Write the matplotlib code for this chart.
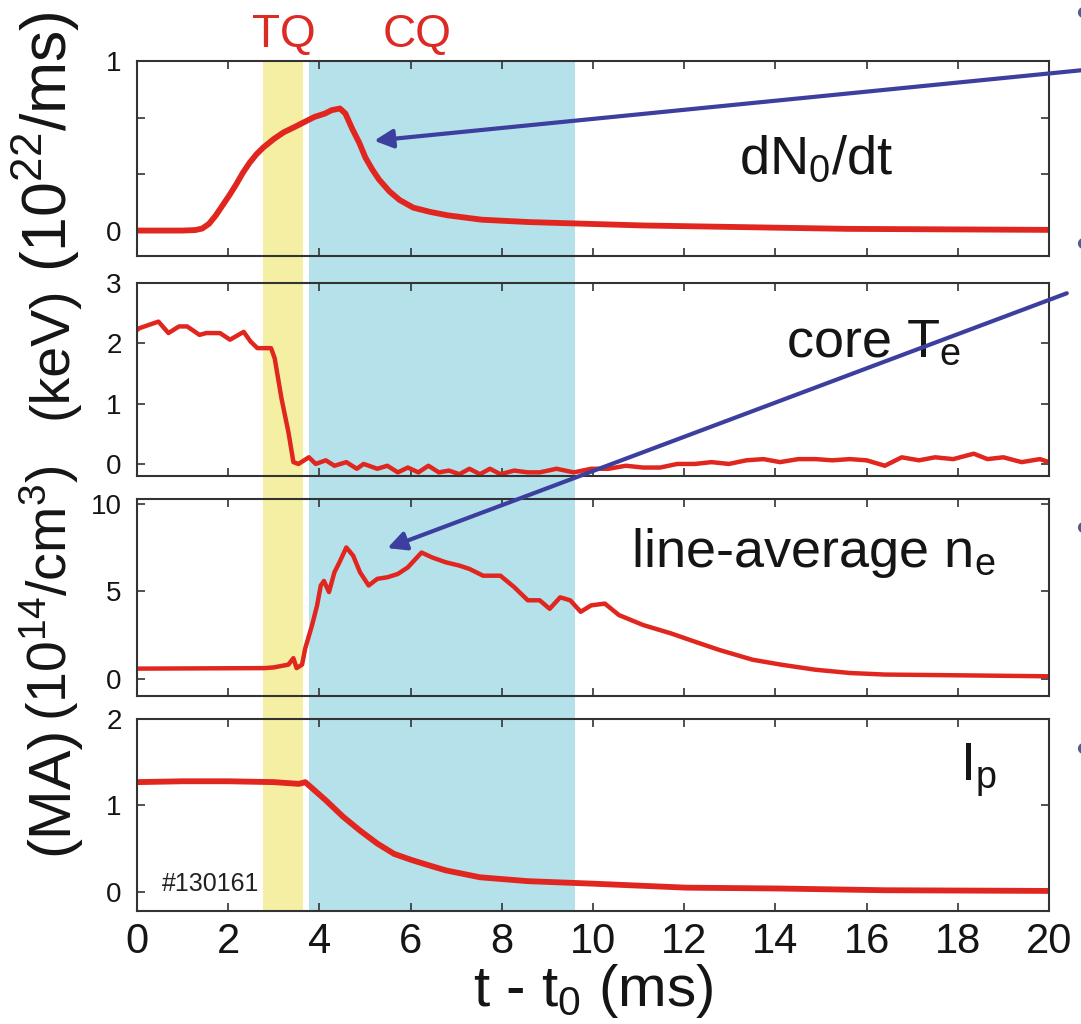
import matplotlib
matplotlib.use('Agg')
import matplotlib.pyplot as plt
import matplotlib.transforms as mtransforms
from matplotlib.lines import Line2D

# ---------------- data ----------------
tq_band = (2.76, 3.65)
cq_band = (3.78, 9.60)

t_dn = [0, 1.0, 1.28, 1.43, 1.58, 1.73, 1.88, 2.03, 2.17, 2.32, 2.47, 2.62, 2.77, 3.0,
        3.22, 3.45, 3.67, 3.89, 4.12, 4.27, 4.45, 4.57, 4.72, 4.87, 5.01, 5.16, 5.31,
        5.54, 5.76, 6.06, 6.43, 6.81, 7.56, 8.6, 11.1, 15.6, 20]
v_dn = [0, 0, 0.003, 0.012, 0.04, 0.09, 0.15, 0.21, 0.27, 0.34, 0.40, 0.45, 0.49, 0.54,
        0.58, 0.61, 0.64, 0.67, 0.69, 0.71, 0.72, 0.69, 0.60, 0.52, 0.43, 0.36, 0.30,
        0.23, 0.18, 0.135, 0.11, 0.09, 0.064, 0.05, 0.03, 0.01, 0.004]

t_te = [0.0, 0.05, 0.47, 0.69, 0.92, 1.1, 1.37, 1.52, 1.82, 2.04, 2.34, 2.49, 2.64,
        2.94, 3.02, 3.17, 3.32, 3.43, 3.54, 3.77, 3.92, 4.14, 4.33, 4.59, 4.82, 4.97,
        5.27, 5.49, 5.72, 5.94, 6.17, 6.39, 6.62, 6.84, 7.07, 7.29, 7.52, 7.74, 7.97,
        8.27, 8.57, 8.83, 9.2, 9.58, 9.96, 10.34, 10.72, 11.1, 11.47, 11.85, 12.23,
        12.6, 12.98, 13.36, 13.74, 14.1, 14.5, 14.88, 15.25, 15.63, 16.0, 16.4, 16.77,
        17.15, 17.5, 17.9, 18.35, 18.65, 19.0, 19.4, 19.8, 20.0]
v_te = [2.22, 2.25, 2.36, 2.17, 2.28, 2.28, 2.14, 2.17, 2.17, 2.06, 2.19, 2.03, 1.92,
        1.92, 1.75, 1.08, 0.53, 0.03, 0.0, 0.11, 0.0, 0.06, -0.03, 0.03, -0.08, 0.0,
        -0.08, -0.03, -0.14, -0.06, -0.14, -0.03, -0.14, -0.11, -0.17, -0.08, -0.17,
        -0.08, -0.17, -0.11, -0.14, -0.14, -0.08, -0.14, -0.08, -0.08, -0.03, -0.06,
        -0.06, 0.0, 0.0, 0.03, 0.0, 0.06, 0.08, 0.03, 0.08, 0.08, 0.06, 0.08, 0.06,
        -0.03, 0.11, 0.06, 0.11, 0.08, 0.17, 0.08, 0.11, 0.03, 0.08, 0.03]

t_ne = [0, 2.8, 3.0, 3.32, 3.43, 3.5, 3.62, 3.69, 3.84, 3.95, 4.03, 4.1, 4.21, 4.33,
        4.44, 4.59, 4.74, 4.89, 5.08, 5.27, 5.49, 5.72, 5.94, 6.24, 6.47, 6.77, 7.07,
        7.29, 7.59, 7.97, 8.27, 8.57, 8.83, 9.05, 9.28, 9.5, 9.73, 9.96, 10.26, 10.57,
        11.1, 11.7, 12.23, 12.76, 13.5, 14.12, 14.87, 15.63, 16.4, 17.9, 20]
v_ne = [0.57, 0.6, 0.64, 0.8, 1.17, 0.6, 0.8, 1.74, 3.07, 4.2, 5.34, 5.6, 4.96, 6.1,
        6.67, 7.52, 7.05, 6.1, 5.34, 5.72, 5.81, 6.0, 6.38, 7.23, 6.95, 6.67, 6.48,
        6.29, 5.9, 5.9, 5.25, 4.49, 4.49, 4.0, 4.66, 4.49, 3.83, 4.2, 4.3, 3.64,
        3.07, 2.6, 2.12, 1.65, 1.08, 0.8, 0.51, 0.32, 0.23, 0.19, 0.13]

t_ip = [0, 1.0, 2.0, 3.0, 3.55, 3.69, 4.14, 4.52, 4.89, 5.27, 5.64, 6.02, 6.39, 6.77,
        7.52, 8.57, 10.0, 12.04, 14.1, 16.4, 20]
v_ip = [1.27, 1.28, 1.28, 1.27, 1.25, 1.27, 1.06, 0.87, 0.71, 0.56, 0.44, 0.37, 0.31,
        0.25, 0.17, 0.125, 0.096, 0.05, 0.04, 0.02, 0.012]

x_ticks = [0, 2, 4, 6, 8, 10, 12, 14, 16, 18, 20]
y_labels = ['(10$^{22}$/ms)', '(keV)', '(10$^{14}$/cm$^3$)', '(MA)']
panel_names = ['dN$_0$/dt', 'core T$_e$', 'line-average n$_e$', 'I$_p$']
shot_label = '#130161'
xlabel = 't - t$_0$ (ms)'

# ---------------- style ----------------
plt.rcParams['font.family'] = ['Liberation Sans', 'DejaVu Sans']
plt.rcParams['mathtext.fontset'] = 'custom'
plt.rcParams['mathtext.rm'] = 'Liberation Sans'
plt.rcParams['mathtext.it'] = 'Liberation Sans:italic'
plt.rcParams['mathtext.bf'] = 'Liberation Sans:bold'
plt.rcParams['mathtext.default'] = 'regular'

RED = '#e0261e'
YELLOW = '#f4efa3'
BLUE = '#b5e1eb'
ARROW = '#3d3f9e'
SPINE = '#333333'
TEXT = '#151515'

W, H = 1081, 1024
fig = plt.figure(figsize=(W / 100, H / 100), dpi=100)

LEFT, RIGHT = 137, 1049


def rect(top, bottom):
    return [LEFT / W, 1 - bottom / H, (RIGHT - LEFT) / W, (bottom - top) / H]


panels_px = [(61, 256), (283, 476), (499, 696), (719, 911)]
ylims = [(-0.15, 1.0), (-0.2, 3.0), (-1.0, 10.3), (-0.22, 2.0)]
yticks = [[0, 1/3, 2/3, 1], [0, 1, 2, 3], [0, 5, 10], [0, 1, 2]]
yticklabels = [['0', '', '', '1'], ['0', '1', '2', '3'], ['0', '5', '10'], ['0', '1', '2']]

# background bands spanning all panels
bg = fig.add_axes(rect(panels_px[0][0], panels_px[-1][1]), zorder=0)
bg.set_xlim(0, 20)
bg.set_ylim(0, 1)
bg.axis('off')
bg.axvspan(*tq_band, color=YELLOW, lw=0)
bg.axvspan(*cq_band, color=BLUE, lw=0)

axes = []
for i, (top, bot) in enumerate(panels_px):
    ax = fig.add_axes(rect(top, bot), zorder=1)
    ax.set_facecolor('none')
    ax.set_xlim(0, 20)
    ax.set_ylim(*ylims[i])
    ax.set_xticks(x_ticks)
    ax.set_yticks(yticks[i])
    ax.set_yticklabels(yticklabels[i])
    ax.tick_params(direction='in', top=True, right=True, length=6, width=1.2,
                   color=SPINE, labelcolor=TEXT)
    ax.tick_params(axis='y', labelsize=20, pad=11)
    ax.tick_params(axis='x', labelsize=30, pad=8)
    if i < 3:
        ax.tick_params(axis='x', labelbottom=False)
    for s in ax.spines.values():
        s.set_color(SPINE)
        s.set_linewidth(1.5)
    axes.append(ax)

ax1, ax2, ax3, ax4 = axes
ax1.plot(t_dn, v_dn, color=RED, lw=4.2, solid_joinstyle='round', solid_capstyle='round')
ax2.plot(t_te, v_te, color=RED, lw=3.2, solid_joinstyle='round')
ax3.plot(t_ne, v_ne, color=RED, lw=3.2, solid_joinstyle='round')
ax4.plot(t_ip, v_ip, color=RED, lw=4.2, solid_joinstyle='round')

# panel labels
lab_pos = [(13.21, 0.338), (14.23, 1.78), (10.83, 6.38), (18.04, 1.29)]
for ax, name, (x, y) in zip(axes, panel_names, lab_pos):
    ax.text(x, y, name, fontsize=39, ha='left', va='baseline', color=TEXT)
ax4.text(0.54, 0.01, shot_label, fontsize=18, ha='left', va='baseline', color='#222222')

# x label
ax4.set_xlabel(xlabel, fontsize=42, labelpad=0, color=TEXT)

# y labels (one per panel, stacked along the left edge)
ylab_centers = [142, 353, 593, 790]
ylab_sizes = [45, 40, 40, 43]
for txt, yc, fs in zip(y_labels, ylab_centers, ylab_sizes):
    fig.text(67 / W, 1 - yc / H, txt, rotation=90, rotation_mode='anchor',
             ha='center', va='baseline', fontsize=fs, color=TEXT)

# TQ / CQ labels
btr = mtransforms.blended_transform_factory(ax1.transData, ax1.transAxes)
ax1.text(3.21, 1.072, 'TQ', transform=btr, ha='center', va='baseline',
         fontsize=33, color='#dc2a24')
ax1.text(6.15, 1.072, 'CQ', transform=btr, ha='center', va='baseline',
         fontsize=33, color='#dc2a24')

# arrows
aprops = dict(arrowstyle='-|>', color=ARROW, lw=3.0, mutation_scale=28,
              shrinkA=0, shrinkB=0)
ax1.annotate('', xy=(5.2, 0.53), xycoords='data', xytext=(22.0, 0.98),
             textcoords='data', arrowprops=aprops, annotation_clip=False)
ax3.annotate('', xy=(5.49, 7.48), xycoords='data', xytext=(20.39, 2.83),
             textcoords=ax2.transData, arrowprops=aprops, annotation_clip=False)

# clipped bullet dots at the right edge (slide decoration)
fig.add_artist(Line2D([1083 / W] * 4, [1 - y / H for y in (12, 243, 527, 748)],
                      transform=fig.transFigure, ls='none', marker='o', ms=7,
                      color='#4f5c8c'))

fig.savefig('out.png', dpi=100)
